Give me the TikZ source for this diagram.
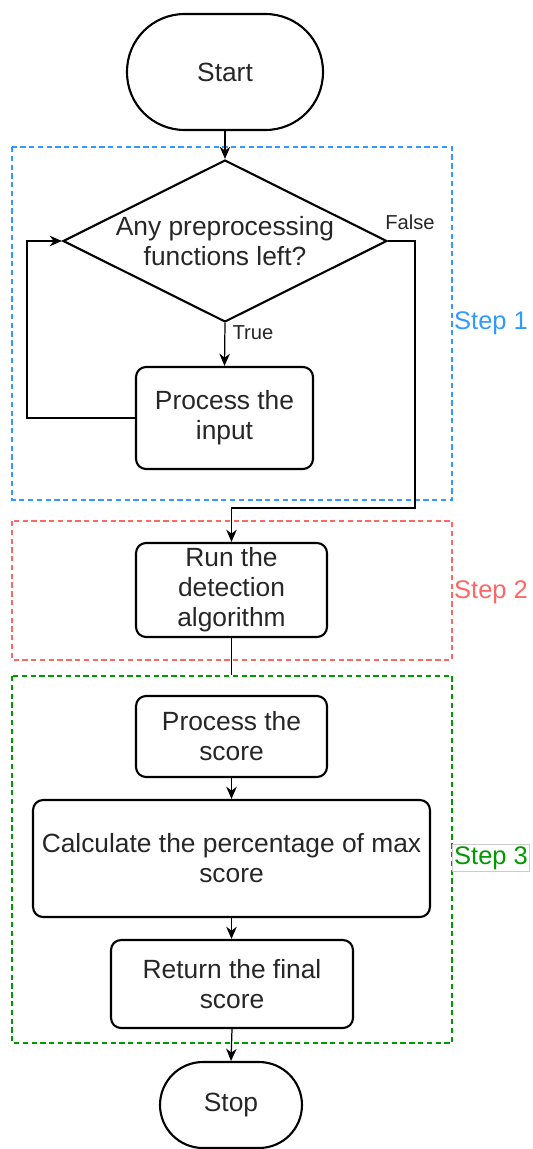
\documentclass[tikz,border=0pt]{standalone}
\usepackage{fontspec}
\setmainfont{Liberation Sans}
\usetikzlibrary{shapes.geometric,arrows.meta}
\definecolor{txt}{HTML}{262626}
\definecolor{sblue}{HTML}{3399FF}
\definecolor{sred}{HTML}{FF6666}
\definecolor{sgreen}{HTML}{009900}
\tikzset{
  px/.style={x=0.02cm,y=-0.02cm},
  stepbox/.style={draw=black, line width=1.2pt, rounded corners=0.2cm, align=center, text=txt,
    font=\fontsize{15}{17}\selectfont, inner sep=0pt},
  term/.style={draw=black, line width=1.2pt, align=center, text=txt,
    font=\fontsize{15}{17}\selectfont, inner sep=0pt},
  conn/.style={draw=black, line width=0.7pt},
  arr/.style={conn, -{Stealth[length=7pt,width=6pt]}},
  frame/.style={dashed, dash pattern=on 3pt off 2pt, line width=0.6pt},
  small/.style={font=\fontsize{11.5}{13}\selectfont, text=txt},
  steplabel/.style={font=\fontsize{14.5}{16}\selectfont}
}
\begin{document}
\begin{tikzpicture}[px]
\useasboundingbox (0,0) rectangle (532,1149);
% frames
\draw[frame, draw=sblue] (12,147) rectangle (452,500);
\draw[frame, draw=sred] (12,521) rectangle (452,660);
\draw[frame, draw=sgreen] (12,676) rectangle (452,1043);
% nodes
\node[term, rounded corners=1.15cm, minimum width=3.92cm, minimum height=2.32cm] (start) at (225,72) {Start};
\node[draw=black, line width=1.2pt, diamond, aspect=2, inner sep=0pt, minimum width=6.48cm, minimum height=3.24cm,
  label={[align=center, text=txt, font=\fontsize{15}{17}\selectfont]center:Any preprocessing\\functions left?}] (dec) at (225,241) {};
\node[stepbox, minimum width=3.54cm, minimum height=2.04cm] (proc) at (224.5,418) {Process the\\input};
\node[stepbox, minimum width=3.82cm, minimum height=1.88cm] (run) at (231.5,590) {Run the\\detection\\algorithm};
\node[stepbox, minimum width=3.82cm, minimum height=1.62cm] (score) at (231.5,736.5) {Process the\\score};
\node[stepbox, minimum width=7.94cm, minimum height=2.34cm] (calc) at (231.5,858.5) {Calculate the percentage of max\\score};
\node[stepbox, minimum width=4.84cm, minimum height=1.76cm] (ret) at (232,984) {Return the final\\score};
\node[term, rounded corners=0.86cm, minimum width=2.84cm, minimum height=1.72cm] (stop) at (231,1105) {Stop};
% labels
\node[small] (truel) at (253,333) {True};
\node[small] (falsel) at (410,222) {False};
\node[steplabel, text=sblue] (s1) at (491,323) {Step 1};
\node[steplabel, text=sred] (s2) at (491,592) {Step 2};
\node[steplabel, text=sgreen, draw=black!20, line width=0.4pt, fill=white, inner sep=1pt] (s3) at (491,858) {Step 3};
% connectors
\draw[arr] (start.south) -- (dec.north);
\draw[arr] (dec.south) -- (proc.north);
\coordinate (loopc) at (27,241);
\draw[arr] (proc.west) -| (loopc) -- (dec.west);
\coordinate (fa) at (415,241);
\coordinate (fb) at (415,508);
\draw[arr] (dec.east) -- (fa) -- (fb) -| (run.north);
\coordinate (rs) at (231.5,675);
\draw[conn] (run.south) -- (rs);
\draw[arr] (score.south) -- (calc.north);
\draw[arr] (calc.south) -- (calc.south |- ret.north);
\draw[arr] (ret.south) -- (stop.north);
\end{tikzpicture}
\end{document}
